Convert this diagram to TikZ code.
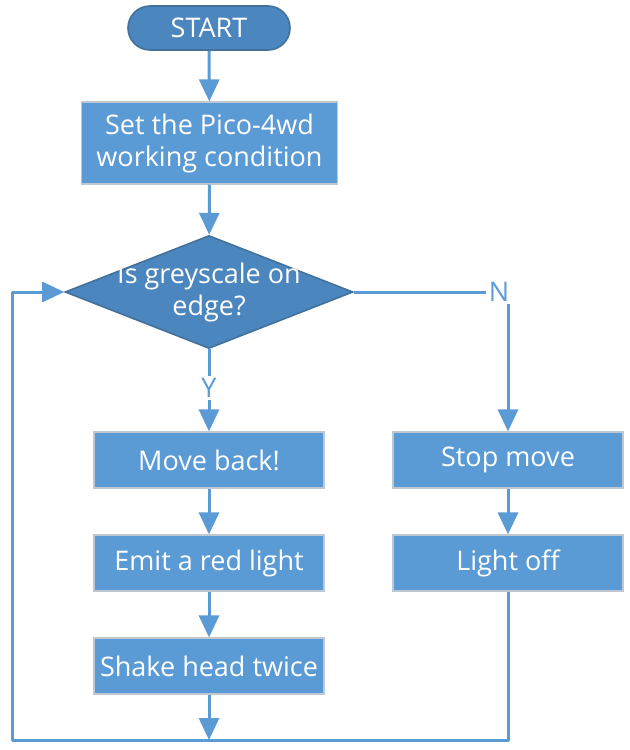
\documentclass[tikz,border=0pt]{standalone}
\usepackage{fontspec}
\setmainfont{Open Sans}
\usetikzlibrary{shapes.geometric,arrows.meta}
\definecolor{boxblue}{HTML}{5B9BD5}
\definecolor{darkblue}{HTML}{4C86BF}
\definecolor{edgeblue}{HTML}{41719C}
\definecolor{boxedge}{HTML}{BFC8D2}
\begin{document}
\begin{tikzpicture}[x=0.5pt, y=-0.5pt, font=\fontsize{13.5}{16}\selectfont]
\tikzstyle{arrow}=[-{Triangle[width=10pt,length=11pt]}, boxblue, line width=1.5pt]
\tikzstyle{line}=[boxblue, line width=1.5pt]
\tikzstyle{stepbox}=[rectangle, draw=boxedge, line width=0.6pt, fill=boxblue, text=white, minimum width=115pt, minimum height=28pt, inner sep=0pt, align=center]
\tikzstyle{lbl}=[text=boxblue, inner sep=1pt]

\useasboundingbox (0,0) rectangle (629,750);

\node[rectangle, rounded corners=11pt, draw=edgeblue, line width=0.8pt, fill=darkblue, text=white, minimum width=81pt, minimum height=22pt] (start) at (209, 28) {START};
\node[stepbox, minimum width=128pt, minimum height=41pt] (cond) at (209.5, 143) {Set the Pico-4wd\\working condition};
\node[diamond, draw=edgeblue, line width=0.8pt, fill=darkblue, minimum width=144pt, minimum height=56.5pt, inner sep=0pt] (dec) at (209, 292) {};
\node[text=white, align=center] (dectext) at (209, 292) {Is greyscale on\\edge?};

\node[stepbox] (back) at (209, 460) {Move back!};
\node[stepbox] (red) at (209, 563) {Emit a red light};
\node[stepbox] (shake) at (209, 666) {Shake head twice};
\node[stepbox] (stop) at (508, 460) {Stop move};
\node[stepbox] (off) at (508, 563) {Light off};

\node[lbl] (ylab) at (209, 388) {Y};
\node[lbl] (nlab) at (499, 292) {N};

\coordinate (bottom) at (209, 740);
\coordinate (corner) at (12, 740);

\draw[arrow] (start) -- (cond);
\draw[arrow] (cond) -- (dec);
\draw[line] (dec.south) -- (ylab.north);
\draw[arrow] (ylab.south) -- (back);
\draw[arrow] (back) -- (red);
\draw[arrow] (red) -- (shake);
\draw[arrow] (shake) -- (bottom);

\draw[line] (dec.east) -- (nlab.west);
\draw[arrow] (nlab.south -| stop.north) -- (stop);
\draw[arrow] (stop) -- (off);

% loop back to the decision
\draw[arrow, line join=round] (off.south) |- (corner) |- (dec.west);

\end{tikzpicture}
\end{document}
